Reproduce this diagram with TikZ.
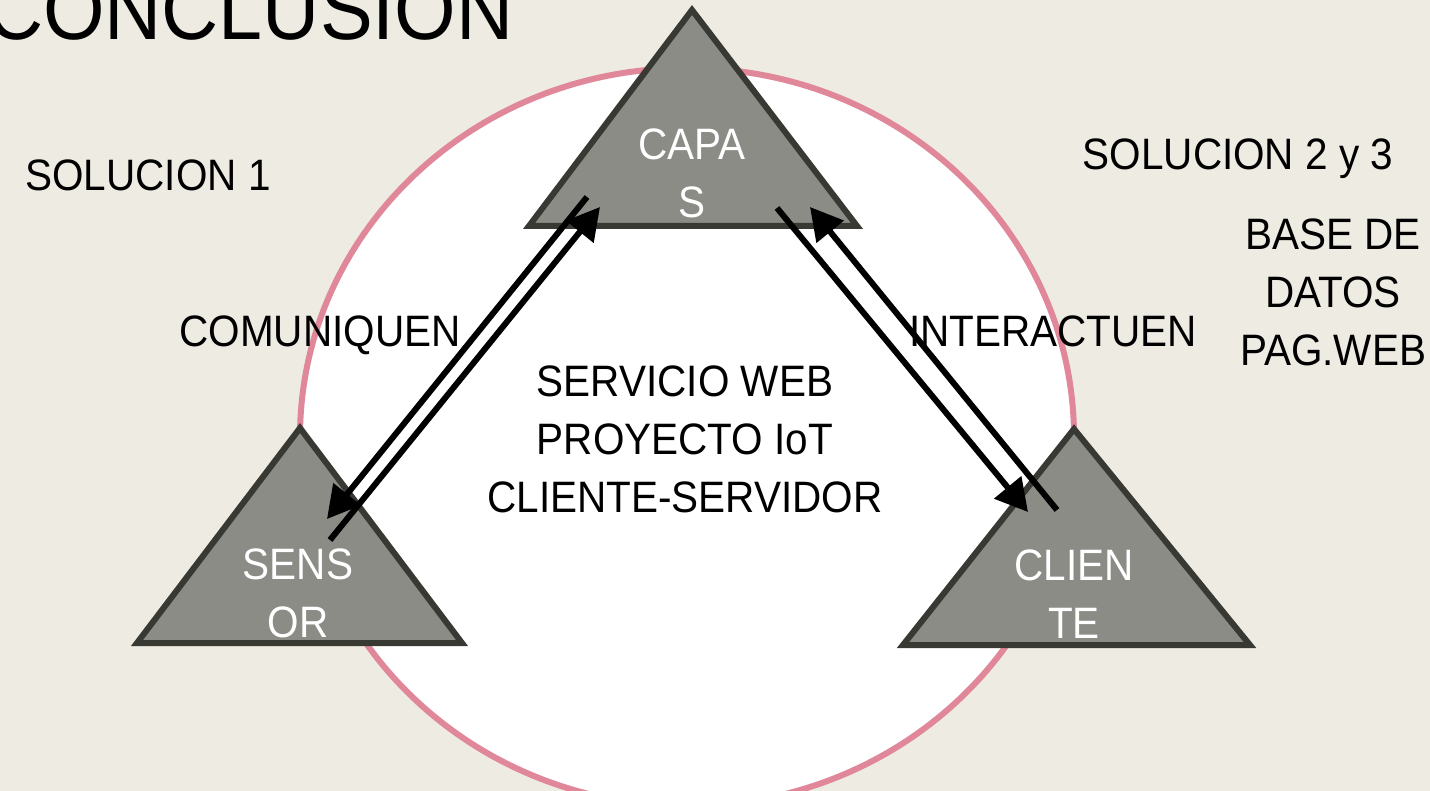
\documentclass[tikz,border=0pt]{standalone}
\usepackage{fontspec}
\setmainfont[FakeStretch=0.92]{Liberation Sans}
\usetikzlibrary{arrows.meta}
\definecolor{paper}{HTML}{EEEBE3}
\definecolor{rose}{HTML}{E0879A}
\definecolor{stone}{HTML}{8B8C86}
\definecolor{edge}{HTML}{383933}
\begin{document}
\begin{tikzpicture}[x=0.5pt,y=-0.5pt,
    txt/.style={font=\fontsize{22}{29}\selectfont, inner sep=0pt, align=center},
    lbl/.style={txt, text=white},
    tri/.style={draw=edge, fill=stone, line width=3pt, line join=miter},
    link/.style={line width=3pt, -{Triangle[length=16pt,width=17pt]}}]
    \useasboundingbox (0,0) rectangle (1430,791);
    \fill[paper] (0,0) rectangle (1430,791);
    \clip (0,0) rectangle (1430,791);
    \draw[line width=3pt, draw=rose, fill=white] (687,437) ellipse[x radius=387, y radius=369];
    \foreach \ax/\ay/\lx/\rx/\by in {692/10/529/857/226, 300/428/137/462/643, 1074/429/903/1250/645} {
        \draw[tri] (\ax,\ay) -- (\rx,\by) -- (\lx,\by) -- cycle;
    }
    \coordinate (c2s-a) at (587,197);
    \coordinate (c2s-b) at (327,519);
    \coordinate (s2c-a) at (330,540);
    \coordinate (s2c-b) at (600,207);
    \coordinate (c2k-a) at (777,208);
    \coordinate (c2k-b) at (1028,512);
    \coordinate (k2c-a) at (1057,510);
    \coordinate (k2c-b) at (810,207);
    \draw[link] (c2s-a) -- (c2s-b);
    \draw[link] (s2c-a) -- (s2c-b);
    \draw[link] (c2k-a) -- (c2k-b);
    \draw[link] (k2c-a) -- (k2c-b);
    % multi-line nodes sit on their last baseline
    \node[lbl, anchor=base] (capas) at (692,218) {CAPA\\S};
    \node[lbl, anchor=base] (sensor) at (298,637) {SENS\\OR};
    \node[lbl, anchor=base] (cliente) at (1074,638) {CLIEN\\TE};
    \node[txt, anchor=base] (servicio) at (685,512) {SERVICIO WEB\\PROYECTO IoT\\CLIENTE-SERVIDOR};
    \node[txt, anchor=base] (comuniquen) at (320,347) {COMUNIQUEN};
    \node[txt, anchor=base] (interactuen) at (1053,347) {INTERACTUEN};
    \node[txt, anchor=base] (sol1) at (148,191) {SOLUCION 1};
    \node[txt, anchor=base] (sol23) at (1238,170) {SOLUCION 2 y 3};
    \node[txt, anchor=base] (bd) at (1333,365) {BASE DE\\DATOS\\PAG.WEB};
    \node[inner sep=0pt, anchor=base east, font=\fontsize{43}{50}\selectfont] (titulo) at (514,40) {CONCLUSION};
\end{tikzpicture}
\end{document}
